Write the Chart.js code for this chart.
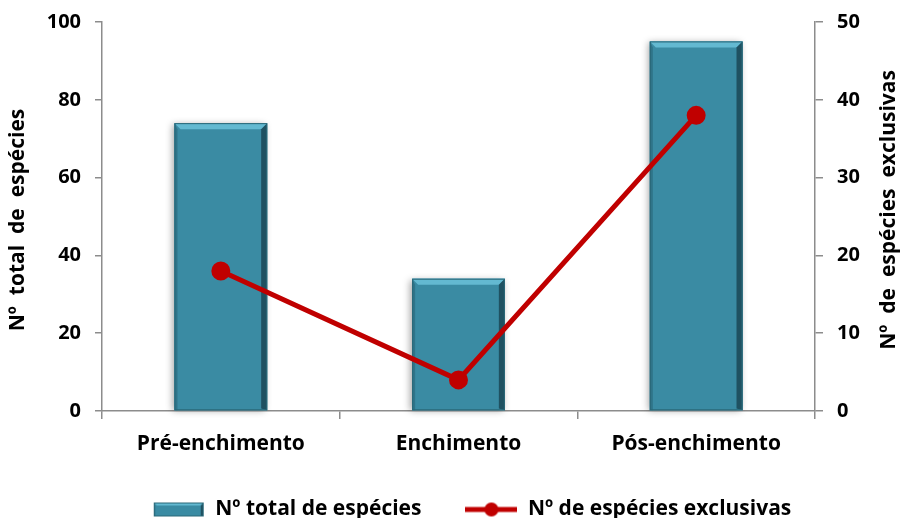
<!DOCTYPE html>
<html>
<head>
<meta charset="utf-8">
<script src="https://cdn.jsdelivr.net/npm/chart.js@4.4.1/dist/chart.umd.min.js"></script>
<style>
    html, body { margin: 0; padding: 0; background: #fff; overflow: hidden; }
    #wrap { width: 900px; height: 530px; position: relative; }
</style>
</head>
<body>
<div id="wrap"><canvas id="speciesChart"></canvas></div>
<script>
// Species counts per phase
const phases = ["Pré-enchimento", "Enchimento", "Pós-enchimento"];
const totalSpecies = [74, 34, 95];
const exclusiveSpecies = [18, 4, 38];
const leftTicks = [0, 20, 40, 60, 80, 100];
const rightTicks = [0, 10, 20, 30, 40, 50];

const FONT = "'Open Sans', Lato, sans-serif";
const AXIS_GREY = "#8c8c8c";
const BAR_FILL = "#3a8ba3";
const BAR_LIGHT = "#63b9d1";
const BAR_DARK = "#1f5161";
const LINE_RED = "#c00000";

// Draws a bevelled teal box (used for bars and the legend swatch)
function bevelBox(ctx, l, t, w, h, e) {
    const r = l + w, b = t + h;
    ctx.fillStyle = BAR_FILL;
    ctx.fillRect(l, t, w, h);
    ctx.fillStyle = BAR_LIGHT;
    ctx.beginPath();
    ctx.moveTo(l, t); ctx.lineTo(r, t); ctx.lineTo(r - e, t + e); ctx.lineTo(l + e, t + e);
    ctx.closePath(); ctx.fill();
    ctx.fillStyle = BAR_DARK;
    ctx.beginPath();
    ctx.moveTo(r, t); ctx.lineTo(r, b); ctx.lineTo(r - e, b - e * 0.3); ctx.lineTo(r - e, t + e);
    ctx.closePath(); ctx.fill();
    ctx.fillStyle = "#2f7489";
    ctx.beginPath();
    ctx.moveTo(l, t); ctx.lineTo(l + e * 0.5, t + e); ctx.lineTo(l + e * 0.5, b); ctx.lineTo(l, b);
    ctx.closePath(); ctx.fill();
    ctx.strokeStyle = "#2a6878";
    ctx.lineWidth = 1;
    ctx.strokeRect(l + 0.5, t + 0.5, w - 1, h - 1);
}

// Legend markers as small canvases
function barSwatch() {
    const c = document.createElement("canvas");
    c.width = 52; c.height = 16;
    bevelBox(c.getContext("2d"), 1, 1, 50, 14, 3);
    return c;
}
function lineSwatch() {
    const c = document.createElement("canvas");
    c.width = 52; c.height = 16;
    const ctx = c.getContext("2d");
    ctx.strokeStyle = LINE_RED;
    ctx.lineWidth = 5;
    ctx.beginPath(); ctx.moveTo(0, 8); ctx.lineTo(52, 8); ctx.stroke();
    ctx.fillStyle = LINE_RED;
    ctx.beginPath(); ctx.arc(26, 8, 7, 0, Math.PI * 2); ctx.fill();
    return c;
}
const legendMarks = { bar: barSwatch(), line: lineSwatch() };

// Soft shadow behind the bars plus a bevel on each one
const barBevel = {
    id: "barBevel",
    beforeDatasetDraw(chart, args) {
        if (chart.data.datasets[args.index].type !== "bar") return;
        const ctx = chart.ctx;
        const meta = chart.getDatasetMeta(args.index);
        meta.data.forEach(bar => {
            const l = bar.x - bar.width / 2;
            ctx.save();
            ctx.shadowColor = "rgba(0,0,0,0.35)";
            ctx.shadowBlur = 7;
            ctx.shadowOffsetX = -2;
            ctx.shadowOffsetY = 1;
            ctx.fillStyle = BAR_FILL;
            ctx.fillRect(l, bar.y, bar.width, bar.base - bar.y);
            ctx.restore();
            ctx.save();
            bevelBox(ctx, l, bar.y, bar.width, bar.base - bar.y, 6);
            ctx.restore();
        });
        return false;
    }
};

// Both axis titles read bottom-to-top; legend nudged right
const axisTitles = {
    id: "axisTitles",
    afterLayout(chart) {
        chart.legend.left += 22;
        chart.legend.right += 22;
    },
    afterDraw(chart) {
        const ctx = chart.ctx;
        ctx.save();
        ctx.fillStyle = "#000";
        ctx.font = "bold 21px " + FONT;
        ctx.textAlign = "center";
        ctx.textBaseline = "middle";
        [[18, 220, "Nº  total  de  espécies"], [889, 210, "Nº  de  espécies  exclusivas"]].forEach(([x, y, text]) => {
            ctx.save();
            ctx.translate(x, y);
            ctx.rotate(-Math.PI / 2);
            ctx.fillText(text, 0, 0);
            ctx.restore();
        });
        ctx.restore();
    }
};

const tickFont = { family: FONT, size: 20, weight: "bold" };
const labelFont = { family: FONT, size: 21, weight: "bold" };

new Chart(document.getElementById("speciesChart"), {
    data: {
        labels: phases,
        datasets: [
            {
                type: "line",
                label: "Nº de espécies exclusivas",
                data: exclusiveSpecies,
                yAxisID: "y1",
                borderColor: LINE_RED,
                backgroundColor: LINE_RED,
                borderWidth: 5,
                pointRadius: 7,
                pointHoverRadius: 7,
                pointBackgroundColor: LINE_RED,
                pointBorderColor: LINE_RED,
                tension: 0,
                order: 0
            },
            {
                type: "bar",
                label: "Nº total de espécies",
                data: totalSpecies,
                yAxisID: "y",
                backgroundColor: BAR_FILL,
                categoryPercentage: 1,
                barPercentage: 0.39,
                order: 1
            }
        ]
    },
    options: {
        responsive: true,
        maintainAspectRatio: false,
        animation: false,
        layout: { padding: { top: 0, left: 0, right: 0, bottom: 0 } },
        plugins: {
            tooltip: { enabled: false },
            legend: {
                position: "bottom",
                reverse: true,
                labels: {
                    color: "#000",
                    font: labelFont,
                    usePointStyle: true,
                    pointStyleWidth: 52,
                    boxHeight: 16,
                    padding: 44,
                    generateLabels(chart) {
                        return chart.data.datasets.map((ds, i) => ({
                            text: ds.label,
                            datasetIndex: i,
                            pointStyle: legendMarks[ds.type],
                            fillStyle: "transparent",
                            strokeStyle: "transparent",
                            lineWidth: 0,
                            hidden: false
                        }));
                    }
                }
            }
        },
        scales: {
            x: {
                offset: true,
                grid: {
                    offset: true,
                    drawOnChartArea: false,
                    color: AXIS_GREY,
                    tickLength: 8,
                    lineWidth: 1.5
                },
                border: { color: AXIS_GREY, width: 1.5 },
                ticks: { color: "#000", font: labelFont, padding: 12 },
                afterFit(scale) { scale.height = 44; }
            },
            y: {
                position: "left",
                min: 0,
                max: 100,
                afterBuildTicks(scale) { scale.ticks = leftTicks.map(v => ({ value: v })); },
                grid: { drawOnChartArea: false, color: AXIS_GREY, tickLength: 7, lineWidth: 1.5 },
                border: { color: AXIS_GREY, width: 1.5 },
                ticks: { color: "#000", font: tickFont, padding: 14 },
                afterFit(scale) { scale.width = 102; scale.paddingTop = 22; }
            },
            y1: {
                position: "right",
                min: 0,
                max: 50,
                afterBuildTicks(scale) { scale.ticks = rightTicks.map(v => ({ value: v })); },
                grid: { drawOnChartArea: false, color: AXIS_GREY, tickLength: 8, lineWidth: 1.5 },
                border: { color: AXIS_GREY, width: 1.5 },
                ticks: { color: "#000", font: tickFont, padding: 14 },
                afterFit(scale) { scale.width = 85; scale.paddingTop = 22; }
            }
        }
    },
    plugins: [barBevel, axisTitles]
});
</script>
</body>
</html>
